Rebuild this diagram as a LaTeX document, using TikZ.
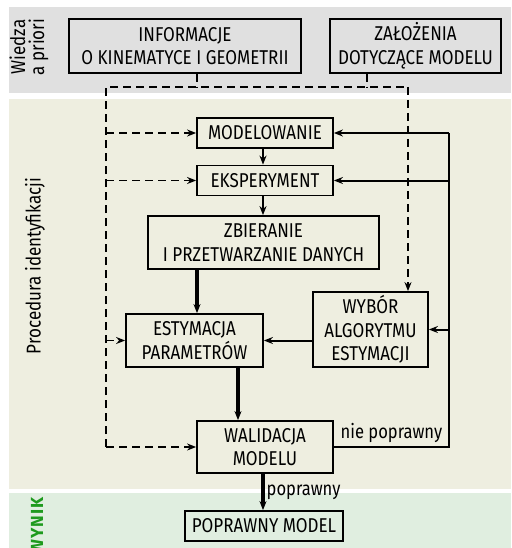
\documentclass[tikz,border=0pt]{standalone}
\usepackage{fontspec}
\setmainfont{Fira Sans}[FakeStretch=0.85]
\newfontfamily\wynikfont{Fira Sans}[LetterSpace=6]
\usetikzlibrary{arrows.meta}
\definecolor{bandgray}{HTML}{E0E0E0}
\definecolor{bandbeige}{HTML}{EEEEE0}
\definecolor{bandgreen}{HTML}{E0EEE0}
\definecolor{wynikgreen}{HTML}{1E9A1E}
\begin{document}
\begin{tikzpicture}[x=1pt,y=-1pt,
  box/.style={draw, line width=1.8pt, inner sep=0pt, align=center,
    font=\fontsize{20}{23.5}\selectfont},
  thin/.style={line width=2pt},
  thick/.style={line width=3.4pt},
  arr/.style={-{Stealth[length=9pt,width=7pt]}},
  dsh/.style={line width=1.8pt, dash pattern=on 8pt off 5pt},
  lbl/.style={font=\fontsize{19.5}{22}\selectfont, inner sep=0pt}]
\useasboundingbox (0,0) rectangle (511,548);
% bands
\fill[bandgray] (9,7) rectangle (511,93);
\fill[bandbeige] (9,99) rectangle (511,489);
\fill[bandgreen] (9,493) rectangle (511,560);
% side labels
\node[lbl, rotate=90, align=center, font=\fontsize{20}{19}\selectfont] (wiedza) at (29,47) {Wiedza\\a priori};
\node[lbl, rotate=90, font=\fontsize{20}{22}\selectfont] (proc) at (35,266) {Procedura identyfikacji};
\node[lbl, rotate=90, anchor=east, text=wynikgreen, font=\wynikfont\fontsize{17.5}{20}\selectfont\bfseries] (wynik) at (37,497) {WYNIK};
% boxes
\node[box, minimum width=232pt, minimum height=54pt] (info) at (185,46) {INFORMACJE\\O KINEMATYCE I GEOMETRII};
\node[box, minimum width=171pt, minimum height=54pt] (zal) at (415.5,46) {ZAŁOŻENIA\\DOTYCZĄCE MODELU};
\node[box, minimum width=136pt, minimum height=30pt] (mod) at (265,133) {MODELOWANIE};
\node[box, minimum width=136pt, minimum height=30pt] (eks) at (265,180.5) {EKSPERYMENT};
\node[box, minimum width=231pt, minimum height=53pt] (zbi) at (263.5,242.5) {ZBIERANIE\\I PRZETWARZANIE DANYCH};
\node[box, minimum width=137pt, minimum height=53pt] (est) at (194.5,340.5) {ESTYMACJA\\PARAMETRÓW};
\node[box, minimum width=115pt, minimum height=75pt] (wyb) at (370.5,329.5) {WYBÓR\\ALGORYTMU\\ESTYMACJI};
\node[box, minimum width=136pt, minimum height=52pt] (wal) at (265,447) {WALIDACJA\\MODELU};
\node[box, minimum width=158pt, minimum height=30pt] (pop) at (264,526) {POPRAWNY MODEL};
% coordinates
\coordinate (dtl) at (106,87);
\coordinate (dtr) at (408,87);
\coordinate (dbl) at (106,447);
\coordinate (rtop) at (449,133);
\coordinate (rbot) at (449,447);
% dashed a-priori connections
\draw[dsh] (info.south -| 197,0) -- (197,87);
\draw[dsh] (zal.south -| 367,0) -- (367,87);
\draw[dsh] (dbl) -- (dtl) -- (dtr);
\draw[dsh, arr] (dtr) -- (wyb.north -| dtr);
\draw[dsh, arr] (dtl |- mod.west) -- (mod.west);
\draw[dsh, arr] (dtl |- eks.west) -- (eks.west);
\draw[dsh, arr] (dtl |- est.west) -- (est.west);
\draw[dsh, arr] (dbl) -- (wal.west);
% main flow
\draw[thin, arr] (mod.south -| 263,0) -- (eks.north -| 263,0);
\draw[thin, arr] (eks.south -| 263,0) -- (zbi.north -| 263,0);
\draw[thick, arr] (zbi.south -| 197,0) -- (est.north -| 197,0);
\draw[thick, arr] (est.south -| 238,0) -- (wal.north -| 238,0);
\draw[thin, arr] (wyb.west |- est.east) -- (est.east);
\draw[thick, arr] (wal.south -| 263,0) -- node[right, lbl, xshift=2pt] (ok) {poprawny} (pop.north -| 263,0);
% feedback loop
\draw[thin] (wal.east) -- node[above, lbl, yshift=3pt] (nok) {nie poprawny} (rbot) -- (rtop);
\draw[thin, arr] (rtop) -- (mod.east);
\draw[thin, arr] (rtop |- eks.east) -- (eks.east);
\draw[thin, arr] (rtop |- wyb.east) -- (wyb.east);
\end{tikzpicture}
\end{document}
